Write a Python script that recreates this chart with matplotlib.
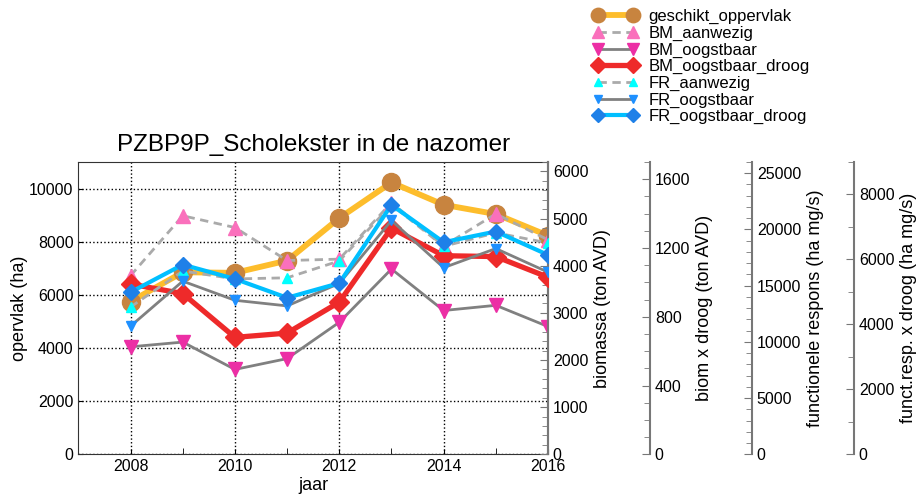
import matplotlib
matplotlib.use('Agg')
import matplotlib.pyplot as plt
from matplotlib.ticker import MultipleLocator

plt.rcParams['font.family'] = ['Liberation Sans', 'DejaVu Sans']

years = [2008, 2009, 2010, 2011, 2012, 2013, 2014, 2015, 2016]
geschikt_oppervlak = [5750, 6850, 6830, 7290, 8890, 10230, 9390, 9040, 8230]
BM_aanwezig = [3790, 5060, 4810, 4110, 4140, 5340, 4420, 5100, 4550]
BM_oogstbaar = [2280, 2380, 1800, 2030, 2800, 3930, 3050, 3160, 2710]
BM_oogstbaar_droog = [990, 935, 680, 705, 885, 1315, 1155, 1150, 1030]
FR_aanwezig = [13100, 16300, 15600, 15700, 17200, 22200, 18500, 19700, 18800]
FR_oogstbaar = [11400, 15400, 13700, 13200, 15200, 20800, 16600, 18300, 16200]
FR_oogstbaar_droog = [4990, 5840, 5400, 4820, 5270, 7680, 6530, 6860, 6140]

W, H = 924, 500
fig = plt.figure(figsize=(W / 100, H / 100), dpi=100)
x0, x1, y0, y1 = 78.4, 548, 162, 454.3
ax = fig.add_axes([x0 / W, 1 - y1 / H, (x1 - x0) / W, (y1 - y0) / H])

tick_fs = 11.5
lab_fs = 13

# main axis
l1, = ax.plot(years, geschikt_oppervlak, color='#FDBD2C', lw=4.2, marker='o', ms=13,
              mfc='#C8843F', mec='#C8843F', label='geschikt_oppervlak', zorder=3)
ax.set_xlim(2007, 2016)
ax.set_ylim(0, 11000)
ax.set_yticks([0, 2000, 4000, 6000, 8000, 10000])
ax.set_xticks([2008, 2010, 2012, 2014, 2016])
ax.xaxis.set_minor_locator(MultipleLocator(1))
ax.grid(True, which='major', color='black', ls=':', lw=1)
ax.tick_params(axis='both', which='both', direction='in', labelsize=tick_fs, right=False, top=False)
ax.tick_params(axis='x', which='minor', length=4)
ax.set_ylabel('opervlak (ha)', fontsize=lab_fs, labelpad=1)
ax.set_xlabel('jaar', fontsize=lab_fs, labelpad=2)
ax.set_title('PZBP9P_Scholekster in de nazomer', fontsize=17.5, pad=8)
for s in ['left', 'top', 'bottom']:
    ax.spines[s].set_color('#333333')
ax.spines['right'].set_color('#777777')
ax.spines['right'].set_linewidth(1.5)

def make_twin(pos, ymax, major, minor, label):
    t = ax.twinx()
    t.set_ylim(0, ymax)
    for s in ['left', 'top', 'bottom']:
        t.spines[s].set_visible(False)
    t.spines['right'].set_color('#777777')
    t.spines['right'].set_linewidth(1.5)
    if pos != 1.0:
        t.spines['right'].set_position(('axes', pos))
    t.yaxis.set_major_locator(MultipleLocator(major))
    t.yaxis.set_minor_locator(MultipleLocator(minor))
    t.tick_params(axis='y', which='both', direction='in', labelsize=tick_fs, color='#777777')
    t.tick_params(axis='y', which='major', length=6)
    t.tick_params(axis='y', which='minor', length=4)
    t.set_ylabel(label, fontsize=lab_fs, labelpad=4)
    t.patch.set_visible(False)
    return t

ax2 = make_twin(1.0, 6200, 1000, 200, 'biomassa (ton AVD)')
ax3 = make_twin(1.2172, 1700, 400, 100, 'biom x droog (ton AVD)')
ax4 = make_twin(1.4344, 26000, 5000, 1000, 'functionele respons (ha mg/s)')
ax5 = make_twin(1.6516, 9000, 2000, 1000, 'funct.resp. x droog (ha mg/s)')

l2, = ax2.plot(years, BM_aanwezig, color='#AAAAAA', lw=2, ls=(0, (3, 2)), marker='^', ms=10,
               mfc='#FA70BC', mec='#FA70BC', label='BM_aanwezig')
l3, = ax2.plot(years, BM_oogstbaar, color='#808080', lw=2, marker='v', ms=10,
               mfc='#EC2FA5', mec='#EC2FA5', label='BM_oogstbaar')
l4, = ax3.plot(years, BM_oogstbaar_droog, color='#EE2A2A', lw=3.8, marker='D', ms=10,
               mfc='#EE2A2A', mec='#EE2A2A', label='BM_oogstbaar_droog')
l5, = ax4.plot(years, FR_aanwezig, color='#AAAAAA', lw=2, ls=(0, (3, 2)), marker='^', ms=7,
               mfc='#00FFFF', mec='#00FFFF', label='FR_aanwezig')
l6, = ax4.plot(years, FR_oogstbaar, color='#808080', lw=2, marker='v', ms=7,
               mfc='#1E90FF', mec='#1E90FF', label='FR_oogstbaar')
l7, = ax5.plot(years, FR_oogstbaar_droog, color='#00BFFF', lw=3, marker='D', ms=8.5,
               mfc='#1E80E8', mec='#1E80E8', label='FR_oogstbaar_droog')

handles = [l1, l2, l3, l4, l5, l6, l7]
fig.legend(handles=handles, labels=[h.get_label() for h in handles],
           loc='upper left', bbox_to_anchor=(590 / W, 1 - 6 / H), frameon=False,
           fontsize=12, numpoints=2, handlelength=2.7, handletextpad=0.6,
           labelspacing=0.09, borderaxespad=0.0, borderpad=0.2, markerscale=0.8)

fig.savefig('out.png', dpi=100)
